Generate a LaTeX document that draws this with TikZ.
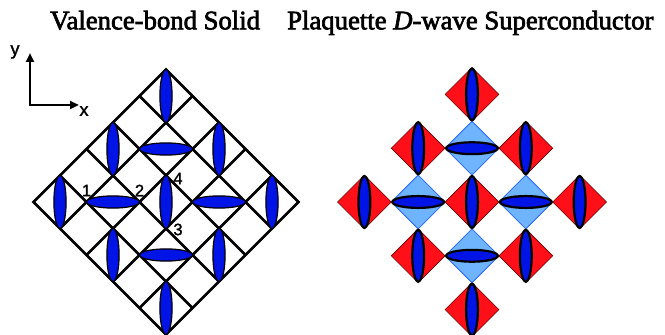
\documentclass[tikz,border=0pt]{standalone}
\usepackage{fontspec}
\setmainfont{Liberation Serif}
\newfontfamily\titlefont{Liberation Serif}[FakeBold=2.5, ItalicFeatures={FakeBold=2.5}]
\newfontfamily\lsans{Liberation Sans}[FakeBold=1.5]
\usetikzlibrary{arrows.meta}
\definecolor{bondblue}{RGB}{0,20,230}
\definecolor{plaqred}{RGB}{255,16,24}
\definecolor{plaqblue}{RGB}{110,180,255}
\definecolor{plaqbluedge}{RGB}{40,100,255}
\begin{document}
\begin{tikzpicture}[x=1pt,y=1pt,
  latline/.style={line width=2.7pt, draw=black},
  vbsbond/.style={draw=black, line width=1.2pt, fill=bondblue},
  pdbond/.style={draw=black, line width=2.2pt, fill=bondblue},
  redplaq/.style={fill=plaqred, draw=black!60!red, line width=0.6pt},
  blueplaq/.style={fill=plaqblue, draw=plaqbluedge, line width=0.8pt},
  titletext/.style={anchor=base west, inner sep=0pt, font=\titlefont\fontsize{26.7}{30}\selectfont},
  sitelabel/.style={inner sep=0pt, font=\lsans\fontsize{16.5}{16.5}\selectfont},
  axislabel/.style={inner sep=0pt, font=\lsans\fontsize{18}{18}\selectfont},
  axisline/.style={line width=2.7pt, line join=miter,
    {Triangle[length=9pt,width=8pt]}-{Triangle[length=9pt,width=8pt]}}
]
\useasboundingbox (0,0) rectangle (665,335);
% titles
\node[titletext] (t1) at (50,305.7) {Valence-bond Solid};
\node[titletext] (t2) at (287,305.7) {Plaquette \textit{D}-wave Superconductor};
% axes
\coordinate (ax0) at (30,230);
\coordinate (axy) at (30,282);
\coordinate (axx) at (79,230);
\draw[axisline] (axy) -- (ax0) -- (axx);
\node[axislabel] (ylab) at (15,283) {y};
\node[axislabel] (xlab) at (84,224) {x};
% left: valence-bond solid lattice
\begin{scope}[shift={(166pt,133pt)}, x=26.5pt, y=26.5pt]
  \foreach \k in {-3,-1,1,3} {
    \draw[latline] ({(-5-\k)/2},{(-5+\k)/2}) -- ({(5-\k)/2},{(5+\k)/2});
    \draw[latline] ({(\k-5)/2},{(\k+5)/2}) -- ({(\k+5)/2},{(\k-5)/2});
  }
  \draw[latline, line join=miter] (-5,0) -- (0,5) -- (5,0) -- (0,-5) -- cycle;
  \foreach \X/\Y/\rx/\ry in {0/4/0.23/1, -2/2/0.23/1, 0/2/1/0.23, 2/2/0.23/1,
      -4/0/0.23/1, -2/0/1/0.23, 0/0/0.23/1, 2/0/1/0.23, 4/0/0.23/1,
      -2/-2/0.23/1, 0/-2/1/0.23, 2/-2/0.23/1, 0/-4/0.23/1} {
    \draw[vbsbond] (\X,\Y) ellipse [x radius=\rx, y radius=\ry];
  }
  \coordinate (s1) at (-3,0);
  \coordinate (s2) at (-1,0);
  \coordinate (s3) at (0,-1);
  \coordinate (s4) at (0,1);
\end{scope}
\node[sitelabel] (l1) at ([yshift=11.5pt]s1) {1};
\node[sitelabel] (l2) at ([yshift=11.5pt]s2) {2};
\node[sitelabel] (l3) at ([xshift=12pt,yshift=-1pt]s3) {3};
\node[sitelabel] (l4) at ([xshift=12pt,yshift=-3pt]s4) {4};
% right: plaquette d-wave superconductor
\begin{scope}[shift={(472pt,133pt)}, x=26.9pt, y=26.9pt]
  \foreach \X/\Y in {0/2, -2/0, 2/0, 0/-2} {
    \draw[blueplaq] (\X-1,\Y) -- (\X,\Y+1) -- (\X+1,\Y) -- (\X,\Y-1) -- cycle;
  }
  \foreach \X/\Y in {0/4, -2/2, 2/2, -4/0, 0/0, 4/0, -2/-2, 2/-2, 0/-4} {
    \draw[redplaq] (\X-1,\Y) -- (\X,\Y+1) -- (\X+1,\Y) -- (\X,\Y-1) -- cycle;
  }
  \foreach \X/\Y/\rx/\ry in {0/4/0.22/0.96, -2/2/0.22/0.96, 0/2/0.96/0.22, 2/2/0.22/0.96,
      -4/0/0.22/0.96, -2/0/0.96/0.22, 0/0/0.22/0.96, 2/0/0.96/0.22, 4/0/0.22/0.96,
      -2/-2/0.22/0.96, 0/-2/0.96/0.22, 2/-2/0.22/0.96, 0/-4/0.22/0.96} {
    \draw[pdbond] (\X,\Y) ellipse [x radius=\rx, y radius=\ry];
  }
\end{scope}
\end{tikzpicture}
\end{document}
